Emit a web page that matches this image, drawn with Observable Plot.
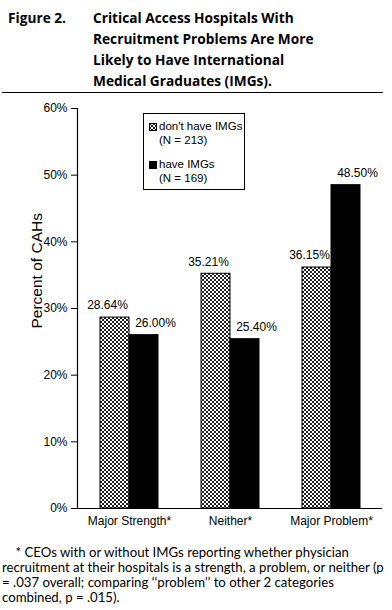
<!DOCTYPE html>
<html>
<head>
<meta charset="utf-8">
<script src="https://cdn.jsdelivr.net/npm/d3@7"></script>
<script src="https://cdn.jsdelivr.net/npm/@observablehq/plot@0.6"></script>
<style>
  html, body { margin: 0; padding: 0; background: #fff; }
  body { width: 392px; height: 610px; position: relative; overflow: hidden; font-family: "Liberation Sans", Arial, sans-serif; color: #000; }
  #title { position: absolute; top: 7px; left: 8px; font-family: "Open Sans", Lato, sans-serif; font-weight: bold; font-size: 13.7px; line-height: 21px; white-space: nowrap; }
  #title .fig { position: absolute; left: 0; top: 0; }
  #title .txt { position: absolute; left: 85px; top: 0; }
  #rule { position: absolute; top: 92px; left: 2px; width: 381px; height: 0; border-top: 1.5px solid #000; }
  #chart { position: absolute; top: 97px; left: 0; }
  #legend { position: absolute; left: 143px; top: 113px; width: 100px; height: 75px; border: 1px solid #000; background: #fff; font-size: 11.5px; }
  #legend .item { position: absolute; left: 5px; white-space: nowrap; line-height: 14px; }
  #legend svg { vertical-align: -1px; margin-right: 2px; }
  #legend .n { padding-left: 10px; }
  #note { position: absolute; top: 545px; left: 2px; font-family: Lato, "Open Sans", sans-serif; font-size: 13.2px; line-height: 15px; white-space: nowrap; }
</style>
</head>
<body>
<div id="title"><span class="fig">Figure 2.</span><span class="txt">Critical Access Hospitals With<br>Recruitment Problems Are More<br>Likely to Have International<br>Medical Graduates (IMGs).</span></div>
<div id="rule"></div>
<div id="chart"></div>
<div id="legend"></div>
<div id="note">&nbsp;&nbsp;&nbsp;&nbsp;* CEOs with or without IMGs reporting whether physician<br>recruitment at their hospitals is a strength, a problem, or neither (p<br>= .037 overall; comparing ‘‘problem’’ to other 2 categories<br>combined, p = .015).</div>
<script>
const categories = ["Major Strength*", "Neither*", "Major Problem*"];
const dontHaveIMGs = [28.64, 35.21, 36.15];
const haveIMGs = [26.00, 25.40, 48.50];
const seriesNames = ["don't have IMGs", "have IMGs"];
const seriesN = [213, 169];
const yTicks = [0, 10, 20, 30, 40, 50, 60];
const yLabel = "Percent of CAHs";

const rows = categories.map((c, i) => ({cat: c, dont: dontHaveIMGs[i], have: haveIMGs[i]}));
const pct = v => v.toFixed(2) + "%";

const chart = Plot.plot({
  width: 392,
  height: 435,
  marginLeft: 77,
  marginRight: 10,
  marginTop: 11,
  marginBottom: 24,
  style: {fontFamily: '"Liberation Sans", Arial, sans-serif', fontSize: "12px", color: "#000", background: "#fff"},
  x: {domain: categories, paddingInner: 0.43, paddingOuter: 0.215, label: null},
  y: {domain: [0, 60], ticks: yTicks, label: null},
  marks: [
    Plot.barY(rows, {x: "cat", y: "dont", fill: "url(#checker)", stroke: "#000", strokeWidth: 1, insetRight: 29}),
    Plot.barY(rows, {x: "cat", y: "have", fill: "#000", stroke: "#000", strokeWidth: 1, insetLeft: 29}),
    Plot.text(rows, {x: "cat", y: "dont", text: d => pct(d.dont), dx: -22, dy: -12, fill: "#000", fontSize: 12}),
    Plot.text(rows, {x: "cat", y: "have", text: d => pct(d.have), dx: 26, dy: -12, fill: "#000", fontSize: 12}),
    Plot.axisY({ticks: yTicks, tickFormat: d => d + "%", tickSize: 6, tickPadding: 4, fontSize: 12, label: null}),
    Plot.axisX({tickSize: 0, tickPadding: 8, fontSize: 12, label: null}),
    Plot.ruleY([0], {stroke: "#000", strokeWidth: 1.2}),
    Plot.frame({anchor: "left", stroke: "#000", strokeWidth: 1.2}),
    Plot.text([yLabel], {frameAnchor: "left", dx: -40, dy: 20, rotate: -90, fontSize: 15.5, fill: "#000", text: d => d})
  ]
});

function addChecker(svg, id) {
  const defs = d3.select(svg).insert("defs", ":first-child");
  const p = defs.append("pattern").attr("id", id).attr("patternUnits", "userSpaceOnUse")
    .attr("width", 4).attr("height", 4);
  p.append("rect").attr("width", 4).attr("height", 4).attr("fill", "#fff");
  p.append("rect").attr("x", 0).attr("y", 0).attr("width", 2).attr("height", 2).attr("fill", "#222");
  p.append("rect").attr("x", 2).attr("y", 2).attr("width", 2).attr("height", 2).attr("fill", "#222");
}
addChecker(chart, "checker");
document.getElementById("chart").appendChild(chart);

// legend
const legend = document.getElementById("legend");
const tops = [[5, 19], [43, 57]];
seriesNames.forEach((name, i) => {
  const a = document.createElement("div");
  a.className = "item";
  a.style.top = tops[i][0] + "px";
  const fill = i === 0 ? "url(#checker)" : "#000";
  a.innerHTML = `<svg width="8" height="8"><rect x="0.5" y="0.5" width="7" height="7" fill="${fill}" stroke="#000"/></svg>${name}`;
  legend.appendChild(a);
  const b = document.createElement("div");
  b.className = "item n";
  b.style.top = tops[i][1] + "px";
  b.textContent = `(N = ${seriesN[i]})`;
  legend.appendChild(b);
});
</script>
</body>
</html>
